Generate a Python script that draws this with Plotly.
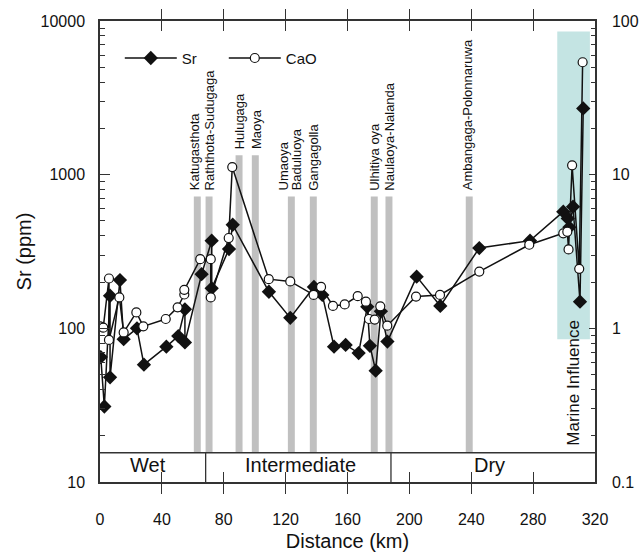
import math
import plotly.graph_objects as go

# Sr concentration (ppm) along the river profile
sr_km = [0.5, 2.8, 6.5, 6.5, 12.9, 15.3, 23.9, 28.4, 42.9, 50.6, 54.9, 54.9,
         65.7, 72.2, 72.2, 83.4, 85.8, 109.2, 123.0, 138.3, 143.7, 151.3, 158.8,
         167.2, 172.8, 174.5, 178.2, 181.6, 185.8, 204.7, 220.0, 245.2, 278.0,
         299.5, 302.4, 303.4, 305.8, 310.3, 312.4]
sr_ppm = [65, 31, 163, 48, 206, 85, 100, 58, 76, 89, 133, 81,
          225, 372, 182, 328, 472, 173, 117, 186, 165, 76, 78,
          69, 138, 77, 53, 129, 82, 217, 140, 333, 372,
          574, 519, 454, 619, 149, 2700]

# CaO content (%) along the same profile
cao_km = [0.0, 2.1, 5.8, 5.8, 12.5, 15.3, 23.5, 28.0, 42.5, 50.2, 54.5, 54.5,
          64.8, 71.6, 71.6, 83.2, 85.5, 109.1, 123.0, 138.1, 142.9, 150.6, 158.2,
          166.6, 171.9, 173.9, 177.6, 181.2, 185.7, 204.3, 219.8, 245.2, 277.5,
          299.5, 302.1, 302.9, 305.2, 309.8, 312.0]
cao_pct = [1.03, 1.01, 2.11, 0.84, 1.59, 0.94, 1.27, 1.03, 1.15, 1.37, 1.66, 1.78,
           2.82, 2.82, 1.59, 3.87, 11.2, 2.09, 2.02, 1.65, 1.86, 1.40, 1.43,
           1.62, 1.49, 1.15, 1.14, 1.39, 1.04, 1.61, 1.65, 2.34, 3.50,
           4.15, 4.25, 3.26, 11.5, 2.44, 53.9]

# Tributary confluences (grey bars) and their names
bar_km = [62.9, 70.5, 89.9, 100.4, 123.7, 137.9, 177.3, 186.8, 238.7]
bar_top = [720, 720, 1340, 1340, 720, 720, 720, 720, 720]
trib_names = ["Katugasthota", "Raththota-Sudugaga", "Hulugaga", "Maoya", "Umaoya",
              "Baduluoya", "Gangagolla", "Ulhitiya oya", "Naulaoya-Nalanda",
              "Ambangaga-Polonnaruwa"]
trib_km = [60.8, 70.7, 90.0, 100.8, 118.5, 127.2, 137.5, 177.3, 187.5, 237.3]
trib_top = [720, 720, 1340, 1340, 720, 720, 720, 720, 720, 720]

# Climatic zones along the profile
zone_names = ["Wet", "Intermediate", "Dry"]
zone_mid_km = [31.2, 129.7, 251.5]
zone_bounds_km = [68.3, 188.1]
band_top = 15.5      # upper edge of the zone strip (ppm scale)
band_text = 12.85

# Marine influence zone
marine_km = [295.6, 316.7]
marine_ppm = [85, 8550]

FONT = "Liberation Sans, Arial, sans-serif"
AX = "#333333"

fig = go.Figure()

fig.add_trace(go.Bar(
    x=bar_km, y=[t - band_top for t in bar_top], base=band_top,
    width=4.5, marker=dict(color="#c0c0c0", line=dict(width=0)),
    showlegend=False, hoverinfo="skip"))

fig.add_trace(go.Scatter(
    x=sr_km, y=sr_ppm, mode="lines+markers", name="Sr",
    line=dict(color="#111111", width=1.5),
    marker=dict(symbol="diamond", size=11, color="#111111")))

fig.add_trace(go.Scatter(
    x=cao_km, y=cao_pct, yaxis="y2", mode="lines+markers", name="CaO",
    line=dict(color="#111111", width=1.5),
    marker=dict(symbol="circle", size=9, color="white",
                line=dict(color="#111111", width=1.2))))

# shapes on a log axis take plain data values
shapes = [
    dict(type="rect", xref="x", yref="y", layer="below",
         x0=marine_km[0], x1=marine_km[1], y0=marine_ppm[0], y1=marine_ppm[1],
         fillcolor="#c4e4e3", line=dict(width=0)),
    dict(type="line", xref="x", yref="y", x0=0, x1=320,
         y0=band_top, y1=band_top, line=dict(color=AX, width=1.3)),
]
for b in zone_bounds_km:
    shapes.append(dict(type="line", xref="x", yref="y", x0=b, x1=b,
                       y0=10, y1=band_top, line=dict(color=AX, width=1.3)))

# annotations on a log axis take log10 positions
annotations = []
for name, km, top in zip(trib_names, trib_km, trib_top):
    annotations.append(dict(
        x=km, y=math.log10(top), xref="x", yref="y", text=name,
        textangle=-90, showarrow=False, xanchor="center", yanchor="bottom",
        yshift=4, font=dict(family=FONT, size=13, color="#111111")))
for name, km in zip(zone_names, zone_mid_km):
    annotations.append(dict(
        x=km, y=math.log10(band_text), xref="x", yref="y", text=name,
        showarrow=False, xanchor="center", yanchor="middle",
        font=dict(family=FONT, size=20, color="#111111")))
annotations.append(dict(
    x=(marine_km[0] + marine_km[1]) / 2, y=math.log10(44), xref="x", yref="y",
    text="Marine Influence", textangle=-90, showarrow=False,
    xanchor="center", yanchor="middle",
    font=dict(family=FONT, size=17, color="#111111")))

yaxis_common = dict(
    type="log", tickmode="linear", tick0=0, dtick=1, tickformat="~g",
    ticks="inside", tickcolor=AX, tickwidth=1.3,
    showline=True, linecolor=AX, linewidth=1.5,
    showgrid=False, zeroline=False, automargin=False,
    tickfont=dict(family=FONT, size=16, color="#111111"),
)

fig.update_layout(
    width=640, height=552,
    margin=dict(l=100, r=45, t=21, b=70),
    paper_bgcolor="white", plot_bgcolor="white",
    font=dict(family=FONT, color="#111111"),
    barmode="overlay",
    shapes=shapes, annotations=annotations,
    legend=dict(orientation="h", x=0.04, y=0.955, xanchor="left", yanchor="top",
                bgcolor="rgba(0,0,0,0)", itemwidth=52, entrywidth=37,
                font=dict(family=FONT, size=15, color="#111111")),
    xaxis=dict(
        range=[0, 320], tickmode="linear", tick0=0, dtick=40,
        ticks="inside", ticklen=10, tickwidth=1.3, tickcolor=AX,
        showline=True, linecolor=AX, linewidth=1.5, mirror="allticks",
        showgrid=False, zeroline=False, ticklabelstandoff=22, automargin=False,
        tickfont=dict(family=FONT, size=16, color="#111111"),
        title=dict(text="Distance (km)", standoff=8,
                   font=dict(family=FONT, size=20, color="#111111"))),
    yaxis=dict(
        range=[1, 4], ticklen=10, ticklabelstandoff=10,
        minor=dict(ticks="inside", ticklen=5, tickcolor=AX, tickwidth=1.2, showgrid=False),
        title=dict(text="Sr (ppm)", standoff=4,
                   font=dict(family=FONT, size=20, color="#111111")),
        **yaxis_common),
    yaxis2=dict(
        range=[-1, 2], overlaying="y", side="right", ticklen=6,
        ticklabelstandoff=12,
        minor=dict(ticks="inside", ticklen=4, tickcolor=AX, tickwidth=1.2, showgrid=False),
        **yaxis_common),
)

fig.write_html("out.html")
